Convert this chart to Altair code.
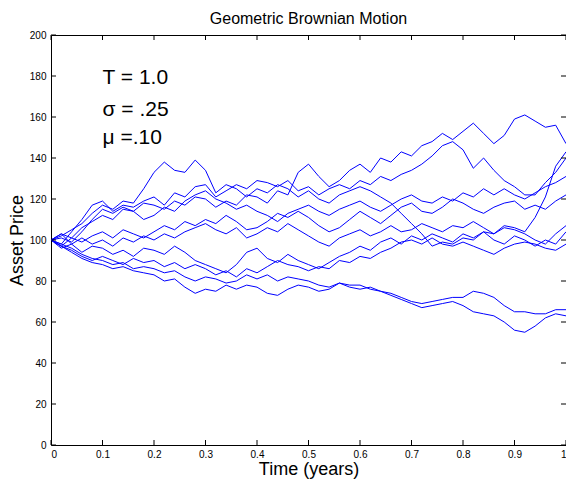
import altair as alt
import pandas as pd

# sample times (years)
TIMES = [round(i * 0.02, 2) for i in range(51)]

# simulated asset-price paths (value at each sample time)
PATH_A = [100,103,101,106,109,112,110,115,114,118,117,115,119,117,121,120,116,119,117,122,
          121,118,124,122,133,137,131,126,129,134,137,133,140,138,143,141,146,148,152,149,
          153,157,152,147,151,159,161,158,155,156,147]
PATH_B = [100,98,104,110,117,119,114,117,116,119,121,117,123,121,126,127,121,124,127,125,
          129,128,126,129,124,126,122,125,127,125,129,127,131,129,132,134,137,141,146,148,
          144,135,140,134,129,126,122,122,128,133,140]
PATH_C = [100,102,105,108,113,117,115,119,118,125,133,138,134,133,139,134,123,127,125,121,
          125,123,127,125,121,124,120,118,122,124,126,124,121,118,113,108,103,97,99,98,
          101,100,104,103,107,106,104,111,121,136,143]
PATH_D = [100,101,99,104,110,115,113,116,114,110,112,116,114,119,122,124,120,118,115,117,
          114,112,109,113,115,117,114,112,115,117,119,116,114,117,120,122,119,118,121,119,
          123,121,125,122,125,122,120,123,126,128,131]
PATH_E = [100,97,101,99,102,104,101,105,103,101,104,107,105,109,107,110,108,112,109,105,
          106,109,113,111,114,111,107,104,106,110,114,111,108,112,116,118,114,113,116,120,
          118,115,113,116,118,119,115,117,115,119,122]
PATH_F = [100,103,98,101,98,100,97,101,99,102,100,103,101,104,106,108,105,103,106,101,
          103,106,104,108,105,102,99,97,101,103,105,102,104,107,104,105,108,106,104,107,
          106,109,106,103,106,105,103,100,98,103,107]
PATH_G = [100,96,98,94,97,96,93,95,92,96,95,93,97,94,90,88,86,84,88,94,
          96,91,89,93,90,88,86,89,92,94,97,95,99,101,98,102,100,103,101,99,
          103,101,104,100,98,102,100,97,100,98,104]
PATH_H = [100,97,95,92,90,92,90,88,91,89,90,87,89,86,88,86,83,85,82,86,
          84,87,90,88,87,85,87,86,90,89,92,91,94,96,99,100,98,101,98,97,
          99,97,95,93,96,98,99,98,96,95,98]
PATH_I = [100,98,96,93,91,90,88,89,86,87,86,84,85,82,80,82,81,79,80,83,
          81,83,80,82,81,80,78,77,79,78,78,76,75,74,72,70,69,70,71,72,
          72,75,74,72,68,65,65,64,64,66,66]
PATH_J = [100,97,94,91,89,88,86,87,85,84,83,80,81,77,74,76,75,78,76,78,
          77,74,73,76,78,77,75,76,79,77,76,77,75,73,71,69,67,68,69,70,
          68,65,64,63,60,56,55,58,62,64,63]

PATHS = {"A": PATH_A, "B": PATH_B, "C": PATH_C, "D": PATH_D, "E": PATH_E,
         "F": PATH_F, "G": PATH_G, "H": PATH_H, "I": PATH_I, "J": PATH_J}

X_TICKS = [0, 0.1, 0.2, 0.3, 0.4, 0.5, 0.6, 0.7, 0.8, 0.9, 1]
Y_TICKS = [0, 20, 40, 60, 80, 100, 120, 140, 160, 180, 200]

ANN_X = [0.1, 0.1, 0.1]
ANN_Y = [179, 163.5, 150]
ANN_TEXT = ["T = 1.0", "σ = .25", "μ =.10"]

rows = []
for name, vals in PATHS.items():
    for t, v in zip(TIMES, vals):
        rows.append({"t": t, "price": v, "path": name})
df = pd.DataFrame(rows)

W, H = 515, 410
FONT = "Liberation Sans"

xscale = alt.Scale(domain=[0, 1], nice=False, zero=False)
yscale = alt.Scale(domain=[0, 200], nice=False, zero=False)

X_AXIS = alt.Axis(values=X_TICKS, format=".1~f", title="Time (years)",
                  ticks=False, domain=False, grid=False,
                  labelPadding=4, titlePadding=1, labelFontSize=10,
                  titleFontSize=18, titleFontWeight="normal",
                  labelFont=FONT, titleFont=FONT, labelColor="black",
                  titleColor="black")
Y_AXIS = alt.Axis(values=Y_TICKS, title="Asset Price",
                  ticks=False, domain=False, grid=False,
                  labelPadding=5, titlePadding=3, labelFontSize=10,
                  titleFontSize=18, titleFontWeight="normal",
                  labelFont=FONT, titleFont=FONT, labelColor="black",
                  titleColor="black")


def xenc():
    return alt.X("t:Q", scale=xscale, axis=X_AXIS, title="Time (years)")


def yenc():
    return alt.Y("price:Q", scale=yscale, axis=Y_AXIS, title="Asset Price")


lines = alt.Chart(df).mark_line(color="#0000ff", strokeWidth=1).encode(
    x=xenc(), y=yenc(), detail="path:N",
)

xt = pd.DataFrame({"t": X_TICKS})
yt = pd.DataFrame({"price": Y_TICKS})
TL = 5
tick_style = dict(color="black", strokeWidth=1)

xb = alt.Chart(xt).mark_rule(**tick_style).encode(
    x=xenc(), y=alt.value(H), y2=alt.value(H - TL))
xtp = alt.Chart(xt).mark_rule(**tick_style).encode(
    x=xenc(), y=alt.value(0), y2=alt.value(TL))
yl = alt.Chart(yt).mark_rule(**tick_style).encode(
    y=yenc(), x=alt.value(0), x2=alt.value(TL))
yr = alt.Chart(yt).mark_rule(**tick_style).encode(
    y=yenc(), x=alt.value(W), x2=alt.value(W - TL))

ann_df = pd.DataFrame({"t": ANN_X, "price": ANN_Y, "text": ANN_TEXT})
ann = alt.Chart(ann_df).mark_text(align="left", baseline="middle", fontSize=21,
                                   font=FONT, color="black").encode(
    x=xenc(), y=yenc(), text="text:N",
)

chart = alt.layer(lines, xb, xtp, yl, yr, ann).properties(
    width=W, height=H,
    background="white",
    title=alt.TitleParams("Geometric Brownian Motion", fontSize=16, fontWeight="normal",
                          font=FONT, color="black", offset=3, anchor="middle"),
    autosize=alt.AutoSizeParams(type="none"),
    padding={"left": 43, "top": 27, "right": 0, "bottom": 36},
).configure_view(stroke="black", strokeWidth=1)

chart.save("out.html", embed_options={"renderer": "svg", "actions": False})
